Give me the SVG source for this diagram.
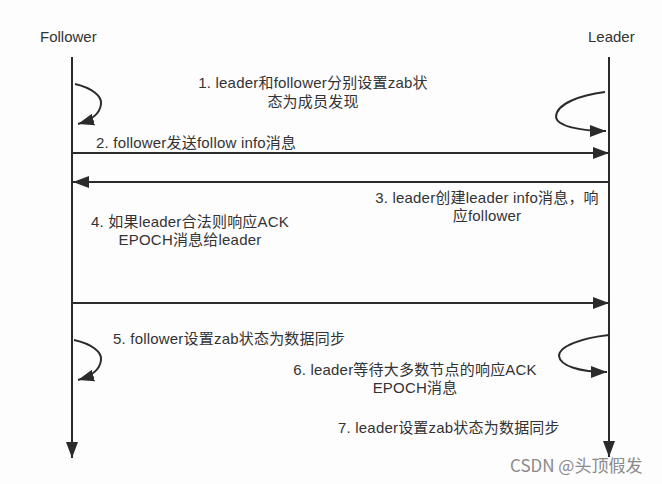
<svg xmlns="http://www.w3.org/2000/svg" width="662" height="484" viewBox="0 0 662 484">
<defs>
<marker id="ahs" viewBox="0 0 10 10" refX="10" refY="5" markerWidth="16" markerHeight="12" markerUnits="userSpaceOnUse" orient="auto" preserveAspectRatio="none">
<path d="M0,0 L10,5 L0,10 Z" fill="#2b2b2b"/>
</marker>
</defs>
<style>
.t{font-family:"Liberation Sans","Noto Sans CJK SC",sans-serif;font-size:15px;letter-spacing:0.2px;fill:#333;}
.h{font-family:"Liberation Sans","Noto Sans CJK SC",sans-serif;font-size:15px;fill:#333;}
.c{text-anchor:middle;}
.l{stroke:#2b2b2b;stroke-width:2;fill:none;}
</style>
<rect width="662" height="484" fill="#fdfdfe"/>
<g id="follower">
<text class="h" x="40" y="42">Follower</text>
</g>
<g id="leader">
<text class="h" x="588" y="42">Leader</text>
</g>
<g id="connectors">
<line class="l" x1="72" y1="57" x2="72" y2="458" marker-end="url(#ahs)"/>
<line class="l" x1="609" y1="57" x2="609" y2="457" marker-end="url(#ahs)"/>
<path class="l" d="M75,84 C92,88 102,96 101,104 C100,114 92,120 78,124" marker-end="url(#ahs)"/>
<path class="l" d="M605,92 C580,95 556,104 556,117 C557,126 580,131 606,131" marker-end="url(#ahs)"/>
<line class="l" x1="72" y1="153" x2="609" y2="153" marker-end="url(#ahs)"/>
<line class="l" x1="609" y1="182" x2="73" y2="182" marker-end="url(#ahs)"/>
<line class="l" x1="72" y1="303" x2="609" y2="303" marker-end="url(#ahs)"/>
<path class="l" d="M74,340 C92,344 102,352 101,360 C100,370 92,376 78,380" marker-end="url(#ahs)"/>
<path class="l" d="M609,335 C582,338 559,346 559,356 C560,366 580,372 607,372" marker-end="url(#ahs)"/>
</g>
<g id="labels">
<text class="t c" x="313" y="88">1. leader和follower分别设置zab状</text>
<text class="t c" x="313" y="107">态为成员发现</text>
<text class="t" x="96" y="148">2. follower发送follow info消息</text>
<text class="t c" x="487" y="203">3. leader创建leader info消息，响</text>
<text class="t c" x="487" y="221">应follower</text>
<text class="t c" x="190" y="227">4. 如果leader合法则响应ACK</text>
<text class="t c" x="190" y="245">EPOCH消息给leader</text>
<text class="t" x="113" y="344">5. follower设置zab状态为数据同步</text>
<text class="t c" x="415" y="375">6. leader等待大多数节点的响应ACK</text>
<text class="t c" x="415" y="393">EPOCH消息</text>
<text class="t" x="338" y="433">7. leader设置zab状态为数据同步</text>
<text x="510" y="472" style="font-family:'Noto Sans CJK SC','Noto Sans',sans-serif;font-size:17px;fill:#8a8a8a">CSDN @头顶假发</text>
</g>
</svg>
